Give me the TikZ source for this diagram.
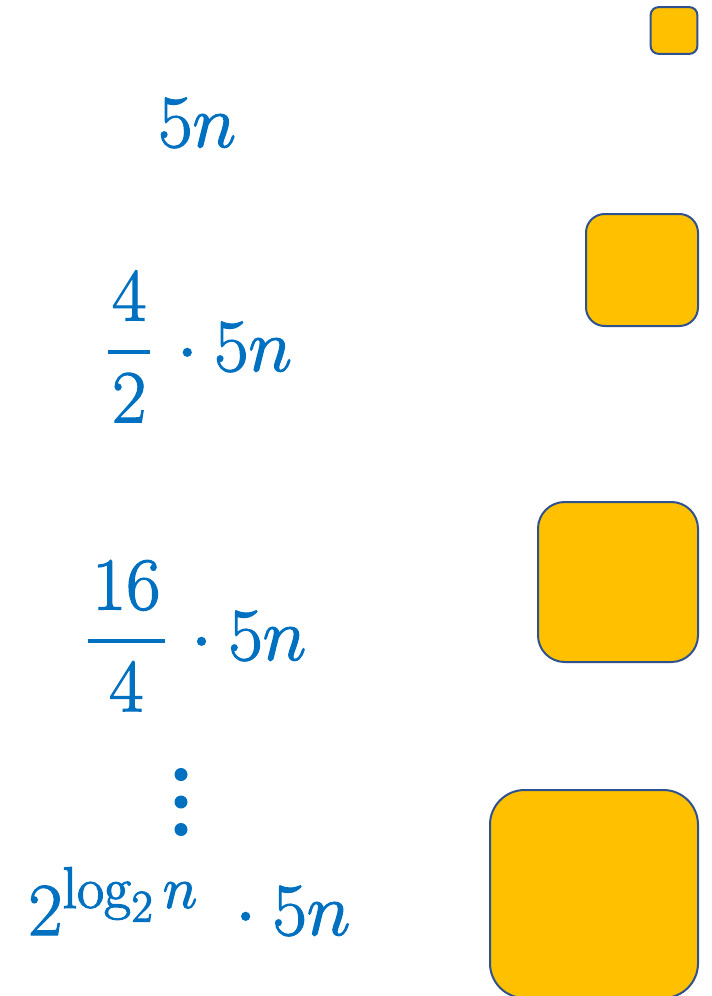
\documentclass[tikz,border=0pt]{standalone}
\usepackage{fix-cm}
\usepackage{amsmath}
\usepackage{xcolor}
\usepackage{tikz}
\usetikzlibrary{positioning}

\DeclareMathSizes{56}{56}{44}{34}
\definecolor{mathblue}{HTML}{0070C0}
\definecolor{gold}{HTML}{FFC000}
\definecolor{edge}{HTML}{2F528F}
% slightly heavier glyphs
\newcommand\heavy[1]{\special{pdf:literal direct 2 Tr 0.9 w}#1\special{pdf:literal direct 0 Tr}}
\newcommand\levelfrac[2]{\genfrac{}{}{3pt}{0}{\mkern1mu#1\mkern1mu}{#2}\mkern2mu}

\begin{document}
\begin{tikzpicture}[
    x=0.75pt, y=-0.75pt,
    formula/.style={text=mathblue, inner sep=0pt, anchor=base west, font=\fontsize{56}{60}\selectfont},
    box/.style={rectangle, draw=edge, fill=gold, line width=1.5pt, minimum size=#1, rounded corners=#1/6},
    dot/.style={circle, fill=mathblue, inner sep=0pt, minimum size=9.75pt}
]
\useasboundingbox (0,0) rectangle (712,996);
% growing subproblem boxes
\node[box=35pt] (b1) at (674,30.5) {};
\node[box=84pt] (b2) at (642,270) {};
\node[box=120pt] (b3) at (618,582) {};
\node[box=156pt] (b4) at (594,894) {};
% cost per level
\node[formula] (f1) at (158,147) {\heavy{$5n$}};
\node[formula] (f2) at (106,371) {\heavy{$\levelfrac{4}{2}\cdot 5n$}};
\node[formula] (f3) at (86,660) {\heavy{$\levelfrac{16}{4}\cdot 5n$}};
\node[formula] (f4) at (28,935) {\heavy{$2^{\log_2 n}\;\cdot 5n$}};
\foreach \i in {1,2,3}
    \node[dot] (dot\i) at (181,747+27.5*\i) {};
\end{tikzpicture}
\end{document}
